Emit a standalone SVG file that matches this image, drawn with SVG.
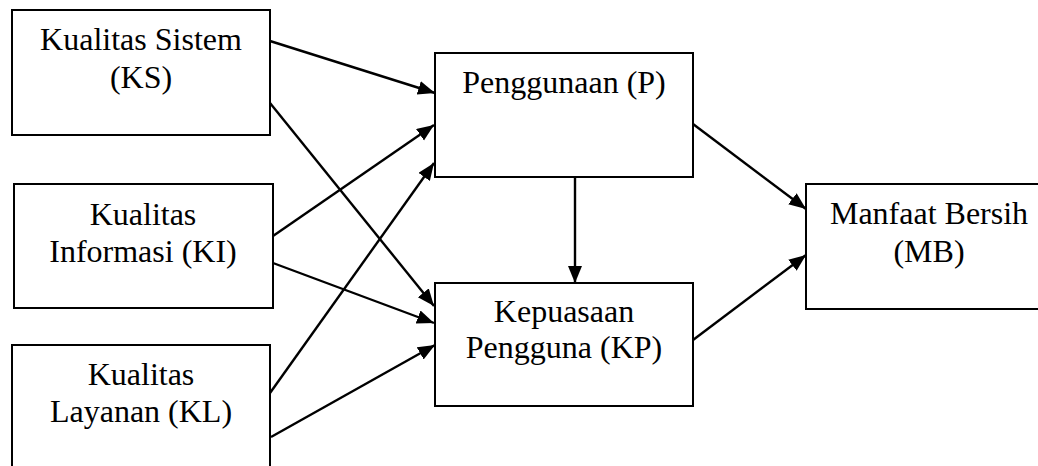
<svg xmlns="http://www.w3.org/2000/svg" width="1038" height="466" viewBox="0 0 1038 466">
  <style>
    .box { fill: #ffffff; stroke: #000000; stroke-width: 2; }
    .lbl { font-family: "Liberation Serif", "Times New Roman", serif; font-size: 32px; fill: #000000; text-anchor: middle; }
    .edge { stroke: #000000; stroke-width: 2.4; fill: none; marker-end: url(#arrow); }
  </style>
  <defs>
    <marker id="arrow" markerUnits="userSpaceOnUse" markerWidth="18" markerHeight="15" refX="17" refY="7" orient="auto">
      <path d="M0,0 L17,7 L0,14 z" fill="#000000"/>
    </marker>
  </defs>
  <rect width="1038" height="466" fill="#ffffff"/>

  <g id="node-ks">
    <rect class="box" x="12" y="10" width="258" height="125"/>
    <text class="lbl" x="141" y="50">Kualitas Sistem</text>
    <text class="lbl" x="141" y="88">(KS)</text>
  </g>
  <g id="node-ki">
    <rect class="box" x="14" y="184" width="259" height="124"/>
    <text class="lbl" x="143" y="225">Kualitas</text>
    <text class="lbl" x="143" y="262">Informasi (KI)</text>
  </g>
  <g id="node-kl">
    <rect class="box" x="12" y="345" width="258" height="150"/>
    <text class="lbl" x="141" y="385">Kualitas</text>
    <text class="lbl" x="141" y="422">Layanan (KL)</text>
  </g>
  <g id="node-p">
    <rect class="box" x="435" y="53" width="258" height="124"/>
    <text class="lbl" x="564" y="93">Penggunaan (P)</text>
  </g>
  <g id="node-kp">
    <rect class="box" x="435" y="283" width="258" height="123"/>
    <text class="lbl" x="564" y="322">Kepuasaan</text>
    <text class="lbl" x="564" y="358">Pengguna (KP)</text>
  </g>
  <g id="node-mb">
    <rect class="box" x="806" y="184" width="240" height="125"/>
    <text class="lbl" x="929" y="224">Manfaat Bersih</text>
    <text class="lbl" x="929" y="262">(MB)</text>
  </g>

  <g id="connectors">
    <line class="edge" x1="270" y1="41" x2="435" y2="93"/>
    <line class="edge" x1="270" y1="103" x2="434" y2="306"/>
    <line class="edge" x1="273" y1="236" x2="434" y2="125"/>
    <line class="edge" x1="273" y1="263" x2="434" y2="323"/>
    <line class="edge" x1="270" y1="393" x2="434" y2="163"/>
    <line class="edge" x1="271" y1="437" x2="435" y2="345"/>
    <line class="edge" x1="575" y1="177" x2="575" y2="283"/>
    <line class="edge" x1="693" y1="124" x2="806" y2="209"/>
    <line class="edge" x1="693" y1="340" x2="806" y2="255"/>
  </g>
</svg>
